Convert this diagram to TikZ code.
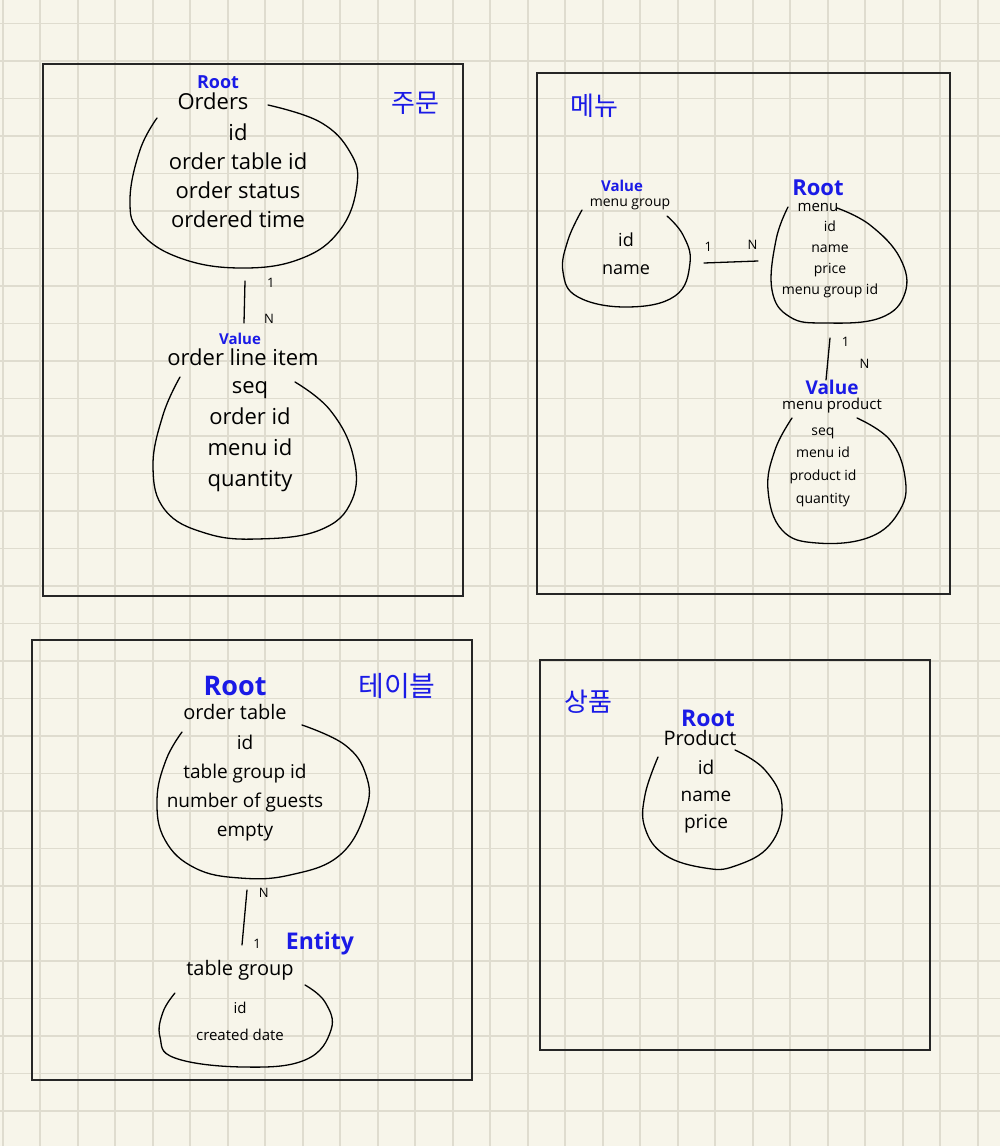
\documentclass[tikz,border=0pt]{standalone}
\usepackage{fontspec}
\setmainfont{Open Sans}
\newfontfamily\kofont{Noto Sans CJK KR}
\usetikzlibrary{positioning}
\definecolor{paper}{HTML}{F7F5EA}
\definecolor{gridline}{HTML}{DFDCCF}
\definecolor{pen}{HTML}{1A1AE6}

\begin{document}
\begin{tikzpicture}[x=1pt,y=-1pt,
box/.style={draw=black!85,line width=1.8pt},
blob/.style={line width=1.3pt,line cap=round},
link/.style={line width=1.3pt,line cap=round},
ttl/.style={inner sep=0pt,font=\fontsize{#1}{#1}\selectfont},
attr/.style 2 args={inner sep=0pt,align=center,font=\fontsize{#1}{#2}\selectfont},
tag/.style={inner sep=0pt,text=pen,font=\bfseries\fontsize{#1}{#1}\selectfont},
ko/.style={inner sep=0pt,text=pen,font=\kofont\fontsize{#1}{#1}\selectfont},
num/.style={inner sep=0pt,font=\fontsize{13}{13}\selectfont}]
% paper
\fill[paper] (0,0) rectangle (1000,1146);
\useasboundingbox (0,0) rectangle (1000,1146);
\foreach \i in {0,...,26} \draw[gridline,line width=1.6pt] (2.7+37.5*\i,0) -- ++(0,1146);
\foreach \j in {0,...,30} \draw[gridline,line width=1.6pt] (0,23.5+37.5*\j) -- ++(1000,0);
% boxes
\draw[box] (43,64) rectangle (463,596);
\draw[box] (537,73) rectangle (950,594);
\draw[box] (32,640) rectangle (472,1080);
\draw[box] (540,660) rectangle (930,1050);

% 주문
\node[ko=26] (kOrder) at (415,103) {주문};
\node[ttl=22] (orders) at (213,101) {Orders};
\node[tag=18,above=3pt of orders,xshift=5pt] (ordersTag) {Root};
\node[attr={22}{29}] (ordersAttr) at (238,176) {id\\order table id\\order status\\ordered time};
\draw[blob] plot[smooth,tension=0.7] coordinates {(268,105) (320,122) (350,152) (357,185) (340,230) (300,259) (240,268) (180,258) (140,232) (130,200) (140,150) (157,118)};
\node[ttl=22] (lineItem) at (243,357) {order line item};
\node[tag=15,above=3pt of lineItem,xshift=-3pt] (lineItemTag) {Value};
\node[attr={22}{31}] (lineItemAttr) at (250,437) {seq\\order id\\menu id\\quantity};
\draw[blob] plot[smooth,tension=0.7] coordinates {(180,377) (163,415) (153,467) (165,510) (205,533) (257,539) (320,530) (352,500) (353,455) (330,410) (295,382)};
\coordinate (ordersEnd) at (245,281);
\coordinate (lineItemEnd) at (244,323);
\draw[link] (ordersEnd) -- node[num,pos=0.05,xshift=26pt]{1} node[num,pos=0.9,xshift=25pt]{N} (lineItemEnd);

% 메뉴
\node[ko=26] (kMenu) at (594,106) {메뉴};
\node[ttl=14] (menuGroup) at (630,204) {menu group};
\node[tag=15,above=6pt of menuGroup,xshift=-8pt] (menuGroupTag) {Value};
\node[attr={18}{28}] (menuGroupAttr) at (626,254) {id\\name};
\draw[blob] plot[smooth,tension=0.7] coordinates {(582,210) (568,240) (563,272) (578,297) (627,307) (675,296) (690,263) (683,235) (667,216)};
\node[ttl=15] (menu) at (818,207) {menu};
\node[tag=22,above=7pt of menu] (menuTag) {Root};
\node[attr={14}{21}] (menuAttr) at (830,259) {id\\name\\price\\menu group id};
\draw[blob] plot[smooth,tension=0.7] coordinates {(788,207) (776,240) (772,290) (790,317) (825,323) (880,318) (905,293) (900,258) (870,225) (837,208)};
\node[ttl=15] (menuProduct) at (832,406) {menu product};
\node[tag=19,above=3pt of menuProduct] (menuProductTag) {Value};
\node[attr={14}{22.7}] (menuProductAttr) at (823,467) {seq\\menu id\\product id\\quantity};
\draw[blob] plot[smooth,tension=0.7] coordinates {(792,418) (775,450) (768,490) (782,530) (817,543) (870,537) (900,510) (905,477) (890,440) (857,418)};
\coordinate (groupEnd) at (704,263);
\coordinate (menuEnd) at (758,261);
\draw[link] (groupEnd) -- node[num,pos=0.08,yshift=16pt]{1} node[num,pos=0.9,yshift=16pt]{N} (menuEnd);
\coordinate (menuDown) at (830,338);
\coordinate (productUp) at (826,380);
\draw[link] (menuDown) -- node[num,pos=0.1,xshift=16pt]{1} node[num,pos=0.62,xshift=37pt]{N} (productUp);

% 테이블
\node[ko=28] (kTable) at (397,686) {테이블};
\node[ttl=20] (orderTable) at (235,712) {order table};
\node[tag=27,above=8pt of orderTable] (orderTableTag) {Root};
\node[attr={19}{29}] (orderTableAttr) at (245,788) {id\\table group id\\number of guests\\empty};
\draw[blob] plot[smooth,tension=0.7] coordinates {(302,725) (345,745) (366,775) (366,810) (340,855) (290,875) (240,878) (195,868) (165,840) (157,800) (166,760) (182,732)};
\node[ttl=20] (tableGroup) at (240,970) {table group};
\node[tag=23] (tableGroupTag) at (320,944) {Entity};
\node[attr={15}{27}] (tableGroupAttr) at (240,1021) {id\\created date};
\draw[blob] plot[smooth,tension=0.7] coordinates {(175,993) (163,1012) (160,1037) (175,1058) (243,1067) (305,1060) (331,1030) (325,1002) (305,985)};
\coordinate (tableEnd) at (247,890);
\coordinate (groupUp) at (242,945);
\draw[link] (tableEnd) -- node[num,pos=0.05,xshift=17pt]{N} node[num,pos=0.98,xshift=15pt]{1} (groupUp);

% 상품
\node[ko=26] (kProduct) at (588,702) {상품};
\node[ttl=20] (product) at (700,738) {Product};
\node[tag=23,above=3pt of product,xshift=8pt] (productTag) {Root};
\node[attr={19}{27}] (productAttr) at (706,797) {id\\name\\price};
\draw[blob] plot[smooth,tension=0.7] coordinates {(735,750) (765,770) (782,805) (770,845) (735,866) (705,868) (665,855) (645,828) (645,795) (658,757)};
\end{tikzpicture}
\end{document}
